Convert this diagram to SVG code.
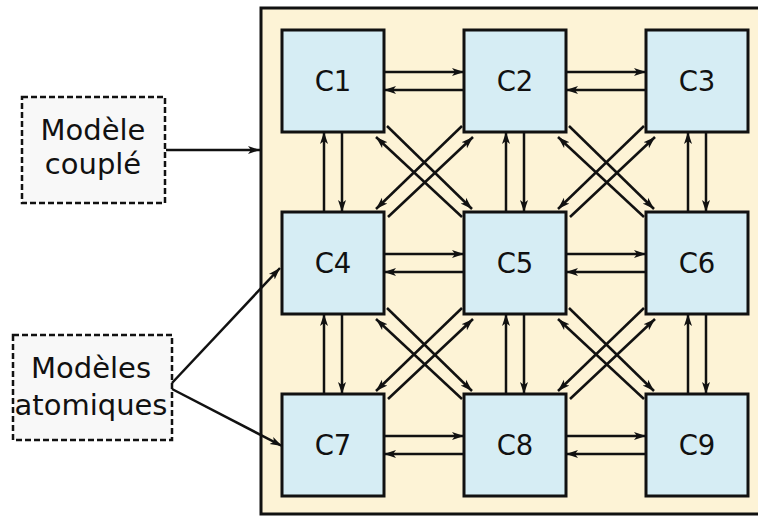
<svg xmlns="http://www.w3.org/2000/svg" width="758" height="516" viewBox="0 0 758 516">
<defs>
<style>
.cell{fill:#d6edf4;stroke:#111;stroke-width:3}
.lbl{font-family:"DejaVu Sans",sans-serif;font-size:27.5px;fill:#111;text-anchor:middle}
.side{font-family:"DejaVu Sans",sans-serif;font-size:29px;fill:#111;text-anchor:middle}
.dash{fill:#f8f8f8;stroke:#111;stroke-width:2.5;stroke-dasharray:6,3}
.c line{stroke:#111;stroke-width:2.5;marker-end:url(#ah)}
</style>
<marker id="ah" markerUnits="userSpaceOnUse" markerWidth="13" markerHeight="10" viewBox="0 0 13 10" refX="12" refY="5" orient="auto">
<path d="M0,1 L12,5 L0,9 L3,5 Z" fill="#111"/>
</marker>
</defs>
<rect width="758" height="516" fill="#fff"/>
<rect id="couple" x="261" y="8" width="510" height="506" fill="#fdf3d6" stroke="#111" stroke-width="3"/>
<g id="modele-couple">
<rect class="dash" x="22" y="97" width="143" height="106"/>
<text class="side" x="93" y="140">Modèle</text>
<text class="side" x="93" y="174">couplé</text>
</g>
<g id="modeles-atomiques">
<rect class="dash" x="13" y="335" width="159" height="105"/>
<text class="side" x="91" y="378">Modèles</text>
<text class="side" x="91" y="415">atomiques</text>
</g>
<g id="C1"><rect class="cell" x="282" y="30" width="102" height="102"/><text class="lbl" x="333" y="91">C1</text></g>
<g id="C2"><rect class="cell" x="464" y="30" width="102" height="102"/><text class="lbl" x="515" y="91">C2</text></g>
<g id="C3"><rect class="cell" x="646" y="30" width="102" height="102"/><text class="lbl" x="697" y="91">C3</text></g>
<g id="C4"><rect class="cell" x="282" y="212" width="102" height="102"/><text class="lbl" x="333" y="273">C4</text></g>
<g id="C5"><rect class="cell" x="464" y="212" width="102" height="102"/><text class="lbl" x="515" y="273">C5</text></g>
<g id="C6"><rect class="cell" x="646" y="212" width="102" height="102"/><text class="lbl" x="697" y="273">C6</text></g>
<g id="C7"><rect class="cell" x="282" y="394" width="102" height="102"/><text class="lbl" x="333" y="455">C7</text></g>
<g id="C8"><rect class="cell" x="464" y="394" width="102" height="102"/><text class="lbl" x="515" y="455">C8</text></g>
<g id="C9"><rect class="cell" x="646" y="394" width="102" height="102"/><text class="lbl" x="697" y="455">C9</text></g>
<g class="c" id="connectors">
<line x1="166" y1="150" x2="260" y2="150"/>
<line x1="172" y1="383" x2="280" y2="268"/>
<line x1="172" y1="389" x2="282" y2="446"/>
<line x1="385" y1="72" x2="464" y2="72"/><line x1="463" y1="90" x2="384" y2="90"/>
<line x1="567" y1="72" x2="646" y2="72"/><line x1="645" y1="90" x2="566" y2="90"/>
<line x1="385" y1="254" x2="464" y2="254"/><line x1="463" y1="272" x2="384" y2="272"/>
<line x1="567" y1="254" x2="646" y2="254"/><line x1="645" y1="272" x2="566" y2="272"/>
<line x1="385" y1="436" x2="464" y2="436"/><line x1="463" y1="454" x2="384" y2="454"/>
<line x1="567" y1="436" x2="646" y2="436"/><line x1="645" y1="454" x2="566" y2="454"/>
<line x1="324" y1="211" x2="324" y2="132"/><line x1="342" y1="133" x2="342" y2="212"/>
<line x1="506" y1="211" x2="506" y2="132"/><line x1="524" y1="133" x2="524" y2="212"/>
<line x1="688" y1="211" x2="688" y2="132"/><line x1="706" y1="133" x2="706" y2="212"/>
<line x1="324" y1="393" x2="324" y2="314"/><line x1="342" y1="315" x2="342" y2="394"/>
<line x1="506" y1="393" x2="506" y2="314"/><line x1="524" y1="315" x2="524" y2="394"/>
<line x1="688" y1="393" x2="688" y2="314"/><line x1="706" y1="315" x2="706" y2="394"/>
<line x1="387" y1="126" x2="472" y2="209"/><line x1="462" y1="217" x2="376" y2="137"/>
<line x1="462" y1="126" x2="376" y2="209"/><line x1="388" y1="217" x2="473" y2="137"/>
<line x1="569" y1="126" x2="654" y2="209"/><line x1="644" y1="217" x2="558" y2="137"/>
<line x1="644" y1="126" x2="558" y2="209"/><line x1="570" y1="217" x2="655" y2="137"/>
<line x1="387" y1="308" x2="472" y2="391"/><line x1="462" y1="399" x2="376" y2="319"/>
<line x1="462" y1="308" x2="376" y2="391"/><line x1="388" y1="399" x2="473" y2="319"/>
<line x1="569" y1="308" x2="654" y2="391"/><line x1="644" y1="399" x2="558" y2="319"/>
<line x1="644" y1="308" x2="558" y2="391"/><line x1="570" y1="399" x2="655" y2="319"/>
</g>
</svg>
